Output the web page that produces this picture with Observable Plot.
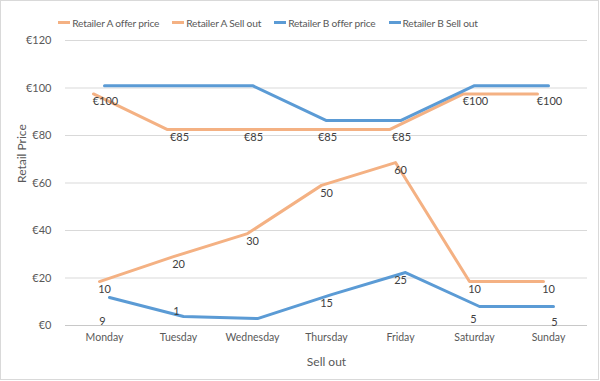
<!DOCTYPE html>
<html>
<head>
<meta charset="utf-8">
<script src="https://cdn.jsdelivr.net/npm/d3@7"></script>
<script src="https://cdn.jsdelivr.net/npm/@observablehq/plot@0.6"></script>
<style>
  body { margin: 0; background: #fff; font-family: Lato, "Open Sans", sans-serif; }
  #wrap { position: relative; width: 600px; height: 381px; overflow: hidden; }
  #frame { position: absolute; left: 0; top: 0; width: 599px; height: 380px; box-sizing: border-box; border: 1px solid #d9d9d9; pointer-events: none; }
  #legend { height: 32px; box-sizing: border-box; padding-top: 13px; display: flex; justify-content: center; gap: 13px; font-size: 10.2px; letter-spacing: -0.2px; color: #595959; line-height: 14px; padding-right: 64px; }
  .item { display: flex; align-items: center; white-space: nowrap; }
  .sw { width: 12px; height: 3.5px; margin-right: 2px; }
  svg { display: block; }
</style>
</head>
<body>
<div id="wrap">
  <div id="legend"></div>
  <div id="chart"></div>
  <div id="frame"></div>
</div>
<script>
const days = ["Monday", "Tuesday", "Wednesday", "Thursday", "Friday", "Saturday", "Sunday"];

const seriesNames = ["Retailer A offer price", "Retailer A Sell out", "Retailer B offer price", "Retailer B Sell out"];
const seriesColors = ["#F4B183", "#F4B183", "#5B9BD5", "#5B9BD5"];

const aOffer = [97.5, 82.5, 82.5, 82.5, 82.5, 97.5, 97.5];
const aOfferLabels = ["€100", "€85", "€85", "€85", "€85", "€100", "€100"];

const aSell = [18.5, 29, 38.7, 59, 68.6, 18.5, 18.5];
const aSellLabels = ["10", "20", "30", "50", "60", "10", "10"];

const bOffer = [101, 101, 101, 86.3, 86.3, 101, 101];

const bSell = [11.8, 3.8, 2.9, 13, 22.3, 8, 8];
const bSellLabels = ["9", "1", "", "15", "25", "5", "5"];

const yTicks = [0, 20, 40, 60, 80, 100, 120];
const yTitle = "Retail Price";
const xTitle = "Sell out";

// legend
const legend = document.getElementById("legend");
seriesNames.forEach((n, i) => {
  const it = document.createElement("div");
  it.className = "item";
  const sw = document.createElement("span");
  sw.className = "sw";
  sw.style.background = seriesColors[i];
  it.appendChild(sw);
  it.appendChild(document.createTextNode(n));
  legend.appendChild(it);
});

const mk = (vals, labels) => days.map((d, i) => ({day: d, value: vals[i], label: labels ? labels[i] : ""}));
const dA = mk(aOffer, aOfferLabels);
const dAS = mk(aSell, aSellLabels);
const dB = mk(bOffer, null);
const dBS = mk(bSell, bSellLabels);

const lineOpts = (i, dx) => ({x: "day", y: "value", stroke: seriesColors[i], strokeWidth: 3, dx});
const labelOpts = {x: "day", y: "value", text: "label", dy: 8, fill: "#404040", fontSize: 11};

// Excel placed the Retailer B sell-out labels irregularly: per-label offsets (style only)
const bSellLabelDy = [24, -5, 8, 9, 8, 13, 16];
const bSellLabelDx = [-2, -2, 0, 0, 0, -1, 6];
const bSellLabelMarks = dBS.map((d, i) =>
  Plot.text([d], {...labelOpts, dy: bSellLabelDy[i], dx: bSellLabelDx[i]})
);

const chart = Plot.plot({
  width: 600,
  height: 349,
  marginTop: 8,
  marginBottom: 56,
  marginLeft: 65,
  marginRight: 13,
  style: {fontFamily: "Lato, 'Open Sans', sans-serif", fontSize: "11px", color: "#595959", background: "transparent"},
  x: {type: "point", domain: days, padding: 0.5},
  y: {domain: [0, 120]},
  marks: [
    Plot.gridY(yTicks, {stroke: "#d9d9d9", strokeOpacity: 1, strokeWidth: 1}),
    Plot.ruleY([0], {stroke: "#c8c8c8", strokeWidth: 1}),
    Plot.axisY(yTicks, {tickSize: 0, tickPadding: 14, tickFormat: d => "€" + d, label: null, fill: "#595959", fontSize: 11}),
    Plot.axisX({tickSize: 0, tickPadding: 8, label: null, fill: "#595959", fontSize: 10.5}),
    Plot.text([yTitle], {frameAnchor: "left", dx: -43, rotate: -90, fill: "#595959", fontSize: 12}),
    Plot.text([xTitle], {frameAnchor: "bottom", dy: 40, fill: "#595959", fontSize: 12}),
    Plot.line(dA, lineOpts(0, -11)),
    Plot.line(dAS, lineOpts(1, -5)),
    Plot.line(dB, lineOpts(2, 0)),
    Plot.line(dBS, lineOpts(3, 5)),
    Plot.text(dA, {...labelOpts, dx: 1}),
    Plot.text(dAS, labelOpts),
    ...bSellLabelMarks
  ]
});
document.getElementById("chart").appendChild(chart);
</script>
</body>
</html>
